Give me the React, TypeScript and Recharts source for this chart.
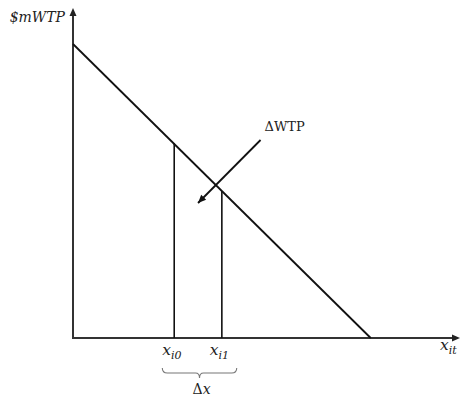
import { LineChart, Line, XAxis, YAxis, ReferenceLine } from "recharts";

// Demand (marginal WTP) schedule
const demandX = [0, 100];
const demandWtp = [98, 0];

const quantityX = [34, 50];
const quantityWtp = [65, 49];
const quantitySub = ["i0", "i1"];

// Annotation arrow pointing at the ΔWTP area
const arrowFrom = { x: 63, y: 66 };
const arrowTo = { x: 42, y: 45 };

// Brace under the quantity change
const braceFrom = 30;
const braceTo = 55;
const braceLevel = -10;

const X_MAX = 130;
const Y_MAX = 110;

const data = demandX.map((x, i) => ({ x, wtp: demandWtp[i] }));

const SERIF = "'DejaVu Serif', 'Liberation Serif', serif";

function arrowHead(x1: number, y1: number, x2: number, y2: number, len: number, half: number) {
  const a = Math.atan2(y2 - y1, x2 - x1);
  const bx = x2 - len * Math.cos(a);
  const by = y2 - len * Math.sin(a);
  const px = -Math.sin(a) * half;
  const py = Math.cos(a) * half;
  return `${x2},${y2} ${bx + px},${by + py} ${bx - px},${by - py}`;
}

function MathLabel({ x, y, base, sub, anchor = "start" }: { x: number; y: number; base: string; sub?: string; anchor?: string }) {
  return (
    <text x={x} y={y} textAnchor={anchor as any} fontFamily={SERIF} fontStyle="italic" fontSize={15.5} fill="#222">
      {base}
      {sub ? (
        <tspan fontSize={11} dy={4}>
          {sub}
        </tspan>
      ) : null}
    </text>
  );
}

export default function App() {
  return (
    <div style={{ position: "absolute", left: 0, top: 0, width: 461, height: 396, background: "#fff" }}>
      <LineChart width={461} height={396} data={data} margin={{ top: 8, right: 1, bottom: 58, left: 73 }}>
        <XAxis dataKey="x" type="number" domain={[0, X_MAX]} hide />
        <YAxis type="number" domain={[0, Y_MAX]} hide />

        {/* vertical axis with arrow */}
        <ReferenceLine
          segment={[{ x: 0, y: 0 }, { x: 0, y: Y_MAX }]}
          ifOverflow="visible"
          shape={(p: any) => (
            <g>
              <line x1={p.x1} y1={p.y1} x2={p.x2} y2={p.y2 + 6} stroke="#333" strokeWidth={2} />
              <polygon points={arrowHead(p.x1, p.y1, p.x2, p.y2, 8, 3.5)} fill="#222" />
              <text x={p.x2 - 8} y={p.y2 + 14} textAnchor="end" fontFamily={SERIF} fontStyle="italic" fontSize={14} fill="#222">
                $mWTP
              </text>
            </g>
          )}
        />

        {/* horizontal axis with arrow */}
        <ReferenceLine
          segment={[{ x: 0, y: 0 }, { x: X_MAX, y: 0 }]}
          ifOverflow="visible"
          shape={(p: any) => (
            <g>
              <line x1={p.x1 - 1} y1={p.y1} x2={p.x2 - 6} y2={p.y2} stroke="#333" strokeWidth={2} />
              <polygon points={arrowHead(p.x1, p.y1, p.x2, p.y2, 8, 3.5)} fill="#222" />
              <MathLabel x={p.x2 - 20} y={p.y2 + 12} base="x" sub="it" />
            </g>
          )}
        />

        {/* quantity markers */}
        {quantityX.map((qx, i) => (
          <ReferenceLine
            key={qx}
            segment={[{ x: qx, y: 0 }, { x: qx, y: quantityWtp[i] }]}
            ifOverflow="visible"
            shape={(p: any) => (
              <g>
                <line x1={p.x1} y1={p.y1} x2={p.x2} y2={p.y2} stroke="#111" strokeWidth={1.6} />
                <MathLabel x={p.x1 - 12} y={p.y1 + 17} base="x" sub={quantitySub[i]} />
              </g>
            )}
          />
        ))}

        {/* brace marking Δx */}
        <ReferenceLine
          segment={[{ x: braceFrom, y: braceLevel }, { x: braceTo, y: braceLevel }]}
          ifOverflow="visible"
          shape={(p: any) => {
            const l = Math.min(p.x1, p.x2);
            const r = Math.max(p.x1, p.x2);
            const m = (l + r) / 2;
            const y = p.y1;
            const d = `M${l},${y} Q${l},${y + 5} ${l + 5},${y + 5} L${m - 4},${y + 5} Q${m},${y + 5} ${m},${y + 10} Q${m},${y + 5} ${m + 4},${y + 5} L${r - 5},${y + 5} Q${r},${y + 5} ${r},${y}`;
            return (
              <g>
                <path d={d} fill="none" stroke="#777" strokeWidth={1.1} />
                <text x={m - 7} y={y + 26} fontFamily={SERIF} fontSize={14} fill="#222">
                  Δ<tspan fontStyle="italic">x</tspan>
                </text>
              </g>
            );
          }}
        />

        {/* ΔWTP annotation arrow */}
        <ReferenceLine
          segment={[arrowFrom, arrowTo]}
          ifOverflow="visible"
          shape={(p: any) => (
            <g>
              <line x1={p.x1} y1={p.y1} x2={p.x2} y2={p.y2} stroke="#111" strokeWidth={1.8} />
              <polygon points={arrowHead(p.x1, p.y1, p.x2, p.y2, 8, 3.5)} fill="#111" />
              <text x={p.x1 + 4} y={p.y1 - 9} fontFamily={SERIF} fontSize={13} fill="#222">
                ΔWTP
              </text>
            </g>
          )}
        />

        <Line
          dataKey="wtp"
          stroke="#111"
          strokeWidth={1.8}
          dot={false}
          activeDot={false}
          isAnimationActive={false}
        />
      </LineChart>
    </div>
  );
}
